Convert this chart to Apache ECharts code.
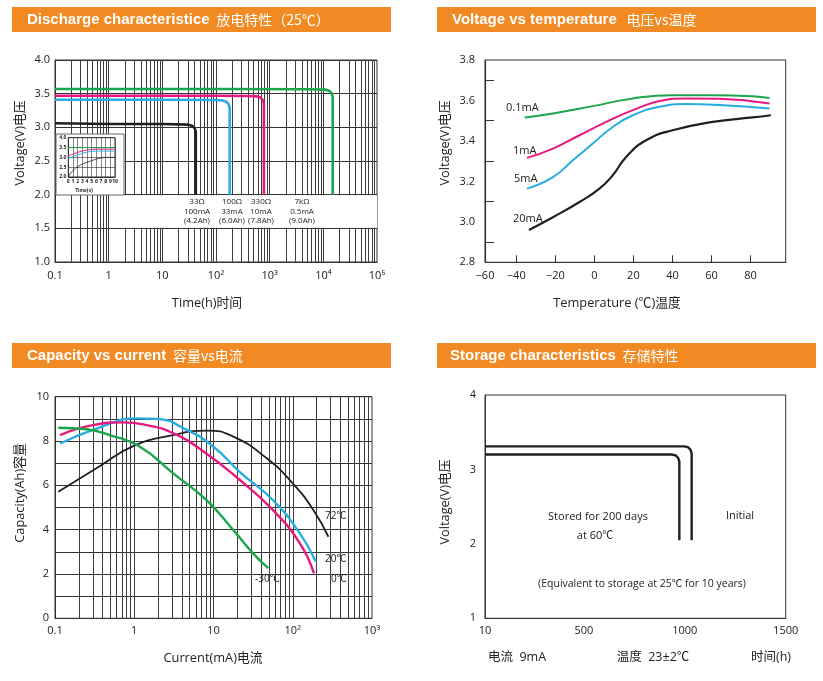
<!DOCTYPE html>
<html><head><meta charset="utf-8">
<script src="https://cdn.jsdelivr.net/npm/echarts@6/dist/echarts.min.js"></script>
<style>html,body{margin:0;padding:0;background:#fff}#c{width:823px;height:681px}</style>
</head><body><div id="c"></div>
<script>
// ---------- data ----------
const dischargeXTickLabels = ['0.1', '1', '10', '10²', '10³', '10⁴', '10⁵'];
const discharge33 = [[0.1,3.06],[1,3.05],[10,3.05],[30.4,3.04],[35.7,3.025],[40.2,2.984],[42,2.93],[42,2.0]];
const discharge100 = [[0.1,3.41],[10,3.41],[100,3.405],[130,3.40],[153,3.385],[172,3.344],[180,3.29],[180,2.0]];
const discharge330 = [[0.1,3.47],[100,3.47],[400,3.465],[565,3.46],[664,3.445],[747,3.404],[780,3.35],[780,2.0]];
const discharge7k = [[0.1,3.57],[100,3.57],[5000,3.565],[10860,3.56],[12770,3.545],[14300,3.504],[14930,3.45],[14930,2.0]];
const dischargeNotes = ['33Ω\n100mA\n(4.2Ah)', '100Ω\n33mA\n(6.0Ah)', '330Ω\n10mA\n(7.8Ah)', '7kΩ\n0.5mA\n(9.0Ah)'];

const insetGreen = [[0,3.47],[0.5,3.5],[10,3.5]];
const insetPink = [[0,3.08],[1.4,3.2],[2.9,3.32],[4.3,3.38],[6,3.42],[10,3.42]];
const insetBlue = [[0,2.95],[1.4,3.08],[2.9,3.2],[4.3,3.28],[6,3.32],[10,3.32]];
const insetBlack = [[0,2.0],[0.7,2.25],[2.1,2.54],[5,2.83],[7.1,2.97],[8.6,3.0],[10,3.0]];

const tempXTickLabels = ['−60', '−40', '−20', '0', '20', '40', '60', '80'];
const temp01mA = [[-35.7,3.516],[-21.2,3.536],[-0.8,3.572],[19.7,3.610],[40.1,3.626],[60.6,3.626],[81.1,3.621],[89.7,3.612]];
const temp1mA = [[-34.5,3.316],[-21.2,3.362],[-7.6,3.428],[6.1,3.494],[19.7,3.552],[33.4,3.597],[47,3.610],[64,3.608],[89.7,3.585]];
const temp5mA = [[-34.5,3.164],[-21.2,3.221],[-11,3.304],[-0.8,3.387],[9.4,3.469],[19.7,3.527],[33.4,3.569],[47,3.582],[64,3.577],[89.7,3.560]];
const temp20mA = [[-33.5,2.960],[-21.2,3.023],[-7.6,3.098],[2.6,3.164],[9.4,3.230],[16.3,3.321],[26.5,3.403],[40.1,3.453],[60.6,3.494],[81.1,3.516],[90.4,3.527]];
const tempNames = ['0.1mA', '1mA', '5mA', '20mA'];

const capXTickLabels = ['0.1', '1', '10', '10²', '10³'];
const cap72 = [[0.11,5.71],[0.37,6.87],[0.97,7.77],[3.1,8.27],[8.1,8.47],[17.8,8.2],[47,7.22],[100,6.09],[182,4.89],[282,3.68]];
const cap20 = [[0.116,7.89],[0.37,8.62],[1.07,9.02],[1.9,9.0],[4.6,8.5],[10,7.74],[21.5,6.6],[56,5.34],[123,3.83],[195,2.56]];
const cap0 = [[0.116,8.27],[0.30,8.72],[0.73,8.84],[1.3,8.75],[3.1,8.35],[8.1,7.44],[21.5,6.24],[56,4.89],[123,3.38],[185,2.03]];
const capM30 = [[0.11,8.6],[0.25,8.53],[0.49,8.27],[1.18,7.74],[3.1,6.54],[8.1,5.34],[17.8,3.98],[31.6,2.93],[49,2.26]];
const capNames = ['72℃', '20℃', '0℃', '-30℃'];

const storageXTicks = [10, 500, 1000, 1500];
const storageInitial = [[10,3.31],[999,3.31],[1017,3.297],[1029,3.26],[1034,3.216],[1034,2.05]];
const storageStored = [[10,3.2],[938,3.2],[956,3.187],[968,3.15],[973,3.106],[973,2.05]];

// ---------- styling ----------
const FONT = "'Open Sans','Noto Sans CJK SC',sans-serif";
const HFONT = "'Liberation Sans',Arial,sans-serif";
const ORANGE = '#F28A24';
const GREEN = '#1BA64B', PINK = '#E6197E', BLUE = '#27ACE3', BLACK = '#231F20';
const GRIDC = '#3d3d3d';
const TITLE = 12.8;

function logGridValues(minExp, maxExp) {
  const out = [];
  for (let e = minExp; e < maxExp; e++) {
    for (let m = 1; m <= 9; m++) {
      if (e === minExp && m === 1) continue;
      out.push(+(m * Math.pow(10, e)).toPrecision(6));
    }
  }
  return out;
}
function expLabel(labels, minExp) {
  return v => { const i = Math.round(Math.log10(v)) - minExp; return labels[i] !== undefined ? labels[i] : ''; };
}
const lbl = (extra) => Object.assign({ color: '#222', fontFamily: FONT, fontSize: 11 }, extra || {});

function header(x, y, w, en, zh, tx) {
  return [
    { type: 'rect', shape: { x: x, y: y, width: w, height: 25 }, style: { fill: ORANGE }, z: 10 },
    { type: 'text', x: tx, y: y + 12.5, z: 11, style: {
      text: '{a|' + en + '}  {b|' + zh + '}', fill: '#fff', verticalAlign: 'middle',
      rich: { a: { fontFamily: HFONT, fontWeight: 'bold', fontSize: 15, fill: '#fff', lineHeight: 20, verticalAlign: 'middle' },
              b: { fontFamily: "'Noto Sans CJK SC',sans-serif", fontSize: 14, fill: '#fff', lineHeight: 20, verticalAlign: 'middle' } } } }
  ];
}
function txt(x, y, text, opt) {
  return Object.assign({ type: 'text', x: x, y: y, z: 12, style: Object.assign({
    text: text, fill: '#222', fontFamily: FONT, fontSize: TITLE, align: 'center', verticalAlign: 'middle' }, (opt && opt.style) || {}) },
    opt && opt.rotation !== undefined ? { rotation: opt.rotation } : {});
}
function vtxt(x, y, text) { return txt(x, y, text, { rotation: Math.PI / 2 }); }

function curve(name, data, color, xi, width, smooth, z) {
  return { name: name, type: 'line', data: data, xAxisIndex: xi, yAxisIndex: xi, showSymbol: false, symbol: 'none',
    smooth: smooth, lineStyle: { color: color, width: width }, z: z || 3, silent: true, animation: false };
}
function gridLines(xi, vals) {
  return { type: 'line', data: [], xAxisIndex: xi, yAxisIndex: xi, silent: true, animation: false,
    markLine: { z: 1, silent: true, animation: false, symbol: ['none', 'none'], label: { show: false },
      lineStyle: { color: GRIDC, width: 1, type: 'solid' }, emphasis: { disabled: true },
      data: vals.map(v => ({ xAxis: v })) } };
}
const axLine = (w) => ({ onZero: false, lineStyle: { color: '#333', width: w || 1 } });

const chart = echarts.init(document.getElementById('c'), null, { renderer: 'canvas' });

const graphics = [].concat(
  header(12, 7, 379, 'Discharge characteristice', '放电特性（25℃）', 27),
  header(437, 7, 379, 'Voltage vs temperature', ' 电压vs温度', 452),
  header(12, 343, 379, 'Capacity vs current', '容量vs电流', 27),
  header(437, 343, 379, 'Storage characteristics', '存储特性', 450),
  [
    { type: 'rect', shape: { x: 56, y: 134, width: 68, height: 61 }, style: { fill: '#fff', stroke: '#666', lineWidth: 1 }, z: 4 },
    txt(84, 191, 'Time(s)', { style: { fontSize: 5, fontWeight: 'bold', fontFamily: HFONT } }),
    vtxt(20, 143, 'Voltage(V)电压'),
    txt(207, 303, 'Time(h)时间'),
    txt(197, 211.5, dischargeNotes[0], { style: { fontSize: 8, lineHeight: 9.3 } }),
    txt(232, 211.5, dischargeNotes[1], { style: { fontSize: 8, lineHeight: 9.3 } }),
    txt(261, 211.5, dischargeNotes[2], { style: { fontSize: 8, lineHeight: 9.3 } }),
    txt(302, 211.5, dischargeNotes[3], { style: { fontSize: 8, lineHeight: 9.3 } }),
    vtxt(445, 143, 'Voltage(V)电压'),
    txt(617, 303, 'Temperature (℃)温度'),
    txt(506, 108, tempNames[0], { style: { align: 'left', fontSize: 11 } }),
    txt(513, 151, tempNames[1], { style: { align: 'left', fontSize: 11 } }),
    txt(514, 179, tempNames[2], { style: { align: 'left', fontSize: 11 } }),
    txt(513, 219, tempNames[3], { style: { align: 'left', fontSize: 11 } }),
    vtxt(20, 493, 'Capacity(Ah)容量'),
    txt(213, 658, 'Current(mA)电流'),
    txt(325, 516, capNames[0], { style: { align: 'left', fontSize: 10 } }),
    txt(325, 559, capNames[1], { style: { align: 'left', fontSize: 10 } }),
    txt(331, 579, capNames[2], { style: { align: 'left', fontSize: 10 } }),
    txt(255, 579, capNames[3], { style: { align: 'left', fontSize: 10 } }),
    vtxt(445, 502, 'Voltage(V)电压'),
    txt(598, 517, 'Stored for 200 days', { style: { fontSize: 11 } }),
    txt(595, 536, 'at 60℃', { style: { fontSize: 11 } }),
    txt(740, 516, 'Initial', { style: { fontSize: 11 } }),
    txt(642, 584, '(Equivalent to storage at 25℃ for 10 years)', { style: { fontSize: 10.5 } }),
    txt(517, 657, '电流  9mA', { style: { fontSize: 12.5 } }),
    txt(653, 657, '温度  23±2℃', { style: { fontSize: 12.5 } }),
    txt(771, 657, '时间(h)', { style: { fontSize: 12.5 } })
  ]
);

const frame = { show: true, borderColor: '#333', borderWidth: 1, backgroundColor: 'transparent', outerBoundsMode: 'none' };
const option = {
  backgroundColor: '#fff',
  animation: false,
  grid: [
    Object.assign({ left: 55, top: 60, width: 322, height: 202 }, frame),
    Object.assign({ left: 68.3, top: 137.7, width: 46.7, height: 39.3, z: 5 }, frame),
    Object.assign({ left: 485, top: 60, width: 300.7, height: 202.3 }, frame),
    Object.assign({ left: 55, top: 396.7, width: 317, height: 221.6 }, frame),
    Object.assign({ left: 485, top: 395, width: 300.7, height: 223.3 }, frame)
  ],
  xAxis: [
    { gridIndex: 0, type: 'log', min: 0.1, max: 100000, axisLine: axLine(), axisTick: { show: false },
      splitLine: { show: false }, axisLabel: lbl({ margin: 8, formatter: expLabel(dischargeXTickLabels, -1) }) },
    { gridIndex: 1, type: 'value', min: 0, max: 10, interval: 1, z: 5, axisLine: axLine(), axisTick: { show: false },
      splitLine: { lineStyle: { color: '#333', width: 0.6 } }, axisLabel: lbl({ fontSize: 5, margin: 2, fontWeight: 'bold' }) },
    { gridIndex: 2, type: 'value', min: -56, max: 98, axisLine: axLine(1.2),
      axisTick: { inside: true, length: 7, customValues: [-40, -20, 0, 20, 40, 60, 80], lineStyle: { color: '#333' } },
      splitLine: { show: false },
      axisLabel: lbl({ margin: 8, customValues: [-56, -40, -20, 0, 20, 40, 60, 80],
        formatter: v => tempXTickLabels[v <= -56 ? 0 : Math.round((v + 60) / 20)] }) },
    { gridIndex: 3, type: 'log', min: 0.1, max: 1000, axisLine: axLine(), axisTick: { show: false },
      splitLine: { show: false }, axisLabel: lbl({ margin: 7, formatter: expLabel(capXTickLabels, -1) }) },
    { gridIndex: 4, type: 'value', min: 10, max: 1500, axisLine: axLine(), axisTick: { show: false },
      splitLine: { show: false }, axisLabel: lbl({ margin: 7, customValues: storageXTicks, formatter: v => String(v) }) }
  ],
  yAxis: [
    { gridIndex: 0, type: 'value', min: 1, max: 4, interval: 0.5, axisLine: axLine(), axisTick: { show: false },
      splitLine: { lineStyle: { color: '#333', width: 1 } }, axisLabel: lbl({ margin: 5, formatter: v => v.toFixed(1) }) },
    { gridIndex: 1, type: 'value', min: 2, max: 4, interval: 0.5, z: 5, axisLine: axLine(), axisTick: { show: false },
      splitLine: { lineStyle: { color: '#333', width: 0.6 } }, axisLabel: lbl({ fontSize: 5, margin: 2, fontWeight: 'bold', formatter: v => v.toFixed(1) }) },
    { gridIndex: 2, type: 'value', min: 2.8, max: 3.8, interval: 0.2, axisLine: axLine(1.2),
      axisTick: { inside: true, length: 9, customValues: [2.9, 3.1, 3.3, 3.5, 3.7], lineStyle: { color: '#333' } },
      splitLine: { show: false }, axisLabel: lbl({ margin: 10, formatter: v => v.toFixed(1) }) },
    { gridIndex: 3, type: 'value', min: 0, max: 10, interval: 1, axisLine: axLine(), axisTick: { show: false },
      splitLine: { lineStyle: { color: '#333', width: 1 } }, axisLabel: lbl({ margin: 6, formatter: v => (Math.round(v) % 2 === 0 ? String(Math.round(v)) : '') }) },
    { gridIndex: 4, type: 'value', min: 1, max: 4, interval: 1, axisLine: axLine(), axisTick: { show: false },
      splitLine: { show: false }, axisLabel: lbl({ margin: 9 }) }
  ],
  graphic: { elements: graphics },
  series: [
    Object.assign(gridLines(0, logGridValues(-1, 5)), {
      markArea: { z: 2, silent: true, animation: false, itemStyle: { color: '#fff' }, emphasis: { disabled: true },
        data: [[{ xAxis: 1.12, yAxis: 1.993 }, { xAxis: 100000, yAxis: 1.507 }]] } }),
    curve('33Ω', discharge33, BLACK, 0, 2.6, false),
    curve('100Ω', discharge100, BLUE, 0, 2.6, false),
    curve('330Ω', discharge330, PINK, 0, 2.6, false),
    curve('7kΩ', discharge7k, GREEN, 0, 2.6, false),
    curve('i-green', insetGreen, GREEN, 1, 1, true, 6),
    curve('i-pink', insetPink, PINK, 1, 1, true, 6),
    curve('i-blue', insetBlue, BLUE, 1, 1, true, 6),
    curve('i-black', insetBlack, BLACK, 1, 0.8, true, 6),
    curve(tempNames[0], temp01mA, GREEN, 2, 2, true),
    curve(tempNames[1], temp1mA, PINK, 2, 2, true),
    curve(tempNames[2], temp5mA, BLUE, 2, 2, true),
    curve(tempNames[3], temp20mA, BLACK, 2, 2.2, true),
    gridLines(3, logGridValues(-1, 3)),
    curve(capNames[0], cap72, BLACK, 3, 1.8, true),
    curve(capNames[1], cap20, BLUE, 3, 2.4, true),
    curve(capNames[2], cap0, PINK, 3, 2.4, true),
    curve(capNames[3], capM30, GREEN, 3, 2.4, true),
    curve('Initial', storageInitial, BLACK, 4, 2.4, false),
    curve('Stored', storageStored, BLACK, 4, 2.4, false)
  ]
};
chart.setOption(option);
</script></body></html>
